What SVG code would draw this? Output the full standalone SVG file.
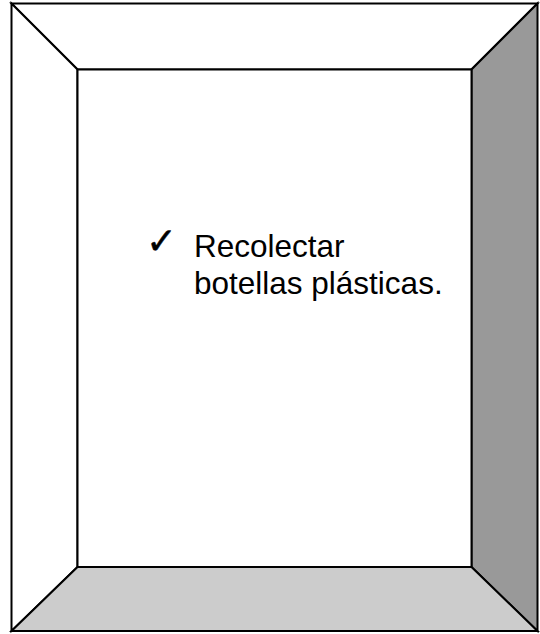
<svg xmlns="http://www.w3.org/2000/svg" width="540" height="634" viewBox="0 0 540 634">
<style>
.edge{stroke:#000;stroke-width:2;stroke-linejoin:miter}
.txt{font-family:"Liberation Sans",Arial,sans-serif;font-size:31.5px;fill:#000}
.chk{font-family:"DejaVu Sans",sans-serif;font-size:37px;fill:#000;stroke:#000;stroke-width:0.5}
</style>
<rect width="540" height="634" fill="#fff"/>
<g id="bevel">
<polygon class="edge" points="11.5,3.5 537.5,3.5 471.5,69.5 77.5,69.5" fill="#fff"/>
<polygon class="edge" points="11.5,3.5 77.5,69.5 77.5,567 11.5,631" fill="#fff"/>
<polygon class="edge" points="537.5,3.5 537.5,631 471.5,567 471.5,69.5" fill="#999"/>
<polygon class="edge" points="11.5,631 77.5,567 471.5,567 537.5,631" fill="#ccc"/>
<rect class="edge" x="77.5" y="69.5" width="394" height="497.5" fill="#fff"/>
</g>
<g id="label">
<text class="chk" x="146" y="254">✓</text>
<text class="txt" x="194" y="257">Recolectar</text>
<text class="txt" x="194" y="294">botellas plásticas.</text>
</g>
</svg>
